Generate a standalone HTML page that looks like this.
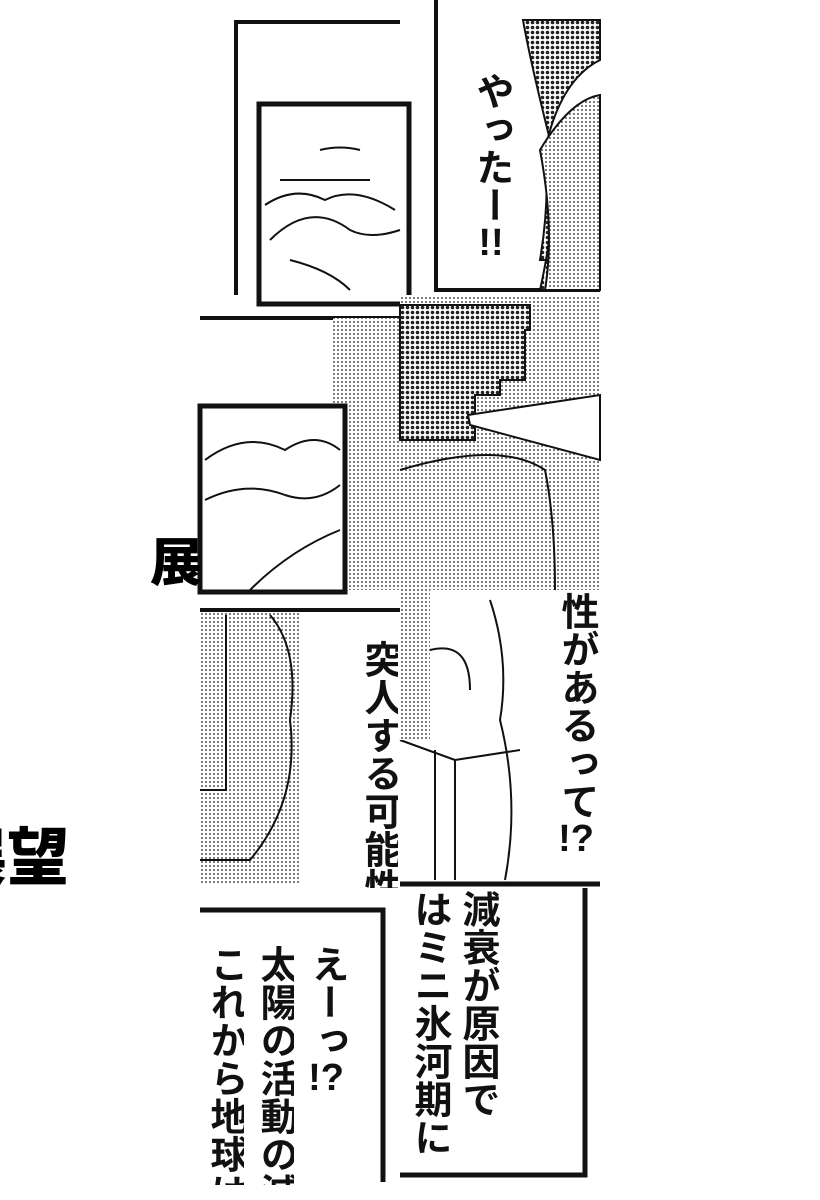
<!DOCTYPE html>
<html><head><meta charset="utf-8"><style>
html,body{margin:0;padding:0;background:#fff;}
body{width:820px;height:1200px;position:relative;overflow:hidden;font-family:"Liberation Sans","Noto Sans CJK JP",sans-serif;}
.v{position:absolute;writing-mode:vertical-rl;font-weight:bold;color:#111;line-height:1;white-space:nowrap;}
.u{text-combine-upright:all;}
svg{position:absolute;left:0;top:0;}
</style></head><body>
<svg width="820" height="1200" viewBox="0 0 820 1200">
<defs>
<pattern id="lt" width="4" height="4" patternUnits="userSpaceOnUse"><rect width="4" height="4" fill="#fff"/><circle cx="2" cy="2" r="1" fill="#555"/></pattern>
<pattern id="dk" width="5" height="5" patternUnits="userSpaceOnUse"><rect width="5" height="5" fill="#fff"/><circle cx="2.5" cy="2.5" r="1.8" fill="#222"/></pattern>
</defs>
<g fill="none" stroke="#111" stroke-width="2">
<path d="M236 295 V22 H400" stroke-width="4"/>
<rect x="259" y="104" width="150" height="200" stroke-width="5"/>
<path d="M265 205 q30 -20 60 -5 q30 -15 70 10 M270 240 q40 -40 80 -10 q20 10 50 0 M280 180 h90 M320 150 q20 -5 40 0 M290 260 q40 10 60 30"/>
<path d="M436 0 V290 H600" stroke-width="4"/>
</g>
<path d="M523 20 H600 V60 Q560 80 545 150 Q550 200 540 260 H600 V290 H540 Q560 200 550 140 Q530 60 523 20Z" fill="url(#dk)" stroke="#111" stroke-width="2"/>
<path d="M540 150 Q570 100 600 95 V290 H545 Q555 230 540 150Z" fill="url(#lt)" stroke="#111" stroke-width="2"/>
<path d="M200 318 H400" stroke="#111" stroke-width="4"/>
<rect x="333" y="318" width="67" height="272" fill="url(#lt)"/>
<rect x="200" y="406" width="145" height="186" fill="#fff" stroke="#111" stroke-width="5"/>
<path d="M205 460 q40 -30 80 -10 q30 -20 55 0 M205 500 q40 -20 80 -5 q30 10 55 -10 M250 590 q40 -40 90 -60" fill="none" stroke="#111" stroke-width="2"/>
<rect x="400" y="295" width="200" height="295" fill="url(#lt)"/>
<path d="M400 305 H530 V330 H525 V380 H500 V395 H475 V440 H400Z" fill="url(#dk)" stroke="#111" stroke-width="2"/>
<path d="M468 415 L600 395 V460 L470 425Z" fill="#fff" stroke="#111" stroke-width="2"/>
<path d="M400 470 Q500 440 545 470 Q555 520 555 590" fill="none" stroke="#111" stroke-width="2"/>
<rect x="200" y="610" width="100" height="275" fill="url(#lt)"/>
<path d="M200 610 H400" stroke="#111" stroke-width="4"/>
<path d="M270 615 Q300 650 290 720 Q300 800 250 860 L200 860" fill="none" stroke="#111" stroke-width="2"/>
<path d="M226 615 V790 H200" fill="none" stroke="#111" stroke-width="2"/>
<path d="M490 600 Q510 660 500 720 Q520 800 505 880 M455 760 L520 750 M455 760 V880 M435 880 V750 M400 740 L455 760 M430 650 Q470 640 470 690" fill="none" stroke="#111" stroke-width="2"/>
<rect x="400" y="590" width="30" height="150" fill="url(#lt)"/>
<path d="M400 884 H600" stroke="#111" stroke-width="5"/>
<path d="M200 910 H383 V1182" fill="none" stroke="#111" stroke-width="5"/>
<path d="M400 1175 H585 V888" fill="none" stroke="#111" stroke-width="5"/>
</svg>
<div class="v" style="left:472px;top:72px;font-size:38px;">やったー<span class="u">!!</span></div>
<div style="position:absolute;left:150px;top:538px;font-size:52px;font-weight:900;line-height:1;width:50px;overflow:hidden;">展</div>
<div style="position:absolute;left:0;top:820px;width:80px;height:80px;overflow:hidden;"><div style="position:absolute;left:-55px;top:8px;font-size:62px;font-weight:900;line-height:1;white-space:nowrap;">展望</div></div>
<div class="v" style="left:360px;top:640px;font-size:38px;height:248px;overflow:hidden;">突人する可能性</div>
<div class="v" style="left:557px;top:592px;font-size:38px;">性があるって<span class="u">!?</span></div>
<div class="v" style="left:458px;top:890px;font-size:38px;">減衰が原因で</div>
<div class="v" style="left:410px;top:890px;font-size:38px;">はミニ氷河期に</div>
<div class="v" style="left:307px;top:945px;font-size:38px;">えーっ<span class="u">!?</span></div>
<div class="v" style="left:256px;top:945px;font-size:38px;height:240px;overflow:hidden;">太陽の活動の減</div>
<div class="v" style="left:206px;top:945px;font-size:38px;height:240px;overflow:hidden;">これから地球は</div>
</body></html>
